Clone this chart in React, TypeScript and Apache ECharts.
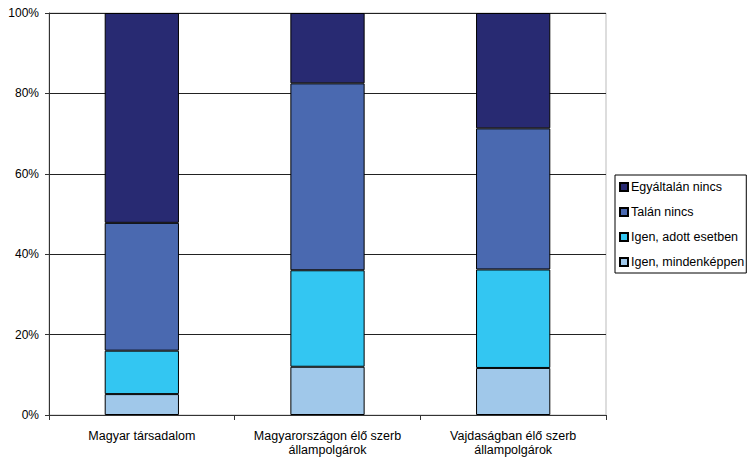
import React, { useEffect, useRef } from "react";
import * as echarts from "echarts";

const categories = ["Magyar társadalom", "Magyarországon élő szerb\nállampolgárok", "Vajdaságban élő szerb\nállampolgárok"];
const mindenkeppen = [5.2, 12.0, 11.7];
const adottEsetben = [10.8, 24.0, 24.5];
const talanNincs = [31.8, 46.5, 35.1];
const egyaltalanNincs = [52.2, 17.5, 28.7];
const seriesNames = ["Igen, mindenképpen", "Igen, adott esetben", "Talán nincs", "Egyáltalán nincs"];
const seriesColors = ["#A0C8EA", "#33C6F2", "#4A69B0", "#282A72"];
const legendOrder = ["Egyáltalán nincs", "Talán nincs", "Igen, adott esetben", "Igen, mindenképpen"];

const FONT = "'Liberation Sans', Arial, sans-serif";

export default function App() {
  const ref = useRef<HTMLDivElement>(null);
  useEffect(() => {
    if (!ref.current) return;
    const chart = echarts.init(ref.current, undefined, { renderer: "svg" });
    const values = [mindenkeppen, adottEsetben, talanNincs, egyaltalanNincs];
    chart.setOption({
      animation: false,
      backgroundColor: "#ffffff",
      textStyle: { fontFamily: FONT },
      grid: {
        left: 49,
        right: 141,
        top: 13,
        bottom: 41,
        show: true,
        borderColor: "#bbbbbb",
        borderWidth: 1,
        backgroundColor: "transparent",
      },
      legend: {
        data: legendOrder,
        orient: "vertical",
        left: 615,
        top: 175,
        itemWidth: 8,
        itemHeight: 8,
        itemGap: 11,
        padding: [5, 2, 4, 4],
        borderColor: "#000",
        borderWidth: 1,
        borderRadius: 0,
        icon: "rect",
        textStyle: { fontFamily: FONT, fontSize: 12.5, color: "#000", lineHeight: 14, padding: [0, 0, 0, -2] },
      },
      xAxis: {
        type: "category",
        data: categories,
        axisLine: { show: true, lineStyle: { color: "#333", width: 1 } },
        axisTick: { show: true, length: 5, lineStyle: { color: "#333" } },
        axisLabel: { fontFamily: FONT, fontSize: 12.5, color: "#000", margin: 14, lineHeight: 14, interval: 0 },
        splitLine: { show: false },
      },
      yAxis: {
        type: "value",
        min: 0,
        max: 100,
        interval: 20,
        axisLine: { show: true, lineStyle: { color: "#333", width: 1 } },
        axisTick: { show: true, length: 4, lineStyle: { color: "#333" } },
        axisLabel: { fontFamily: FONT, fontSize: 12, color: "#000", margin: 10, formatter: "{value}%" },
        splitLine: { show: true, lineStyle: { color: "#222", width: 1 } },
      },
      series: seriesNames.map((name, i) => ({
        name,
        type: "bar",
        stack: "total",
        barWidth: "40%",
        data: values[i],
        itemStyle: { color: seriesColors[i], borderColor: "#000", borderWidth: 1 },
        emphasis: { disabled: true },
      })),
    });
    return () => chart.dispose();
  }, []);
  return <div ref={ref} style={{ width: 747, height: 457, position: "absolute", left: 0, top: 0 }} />;
}
